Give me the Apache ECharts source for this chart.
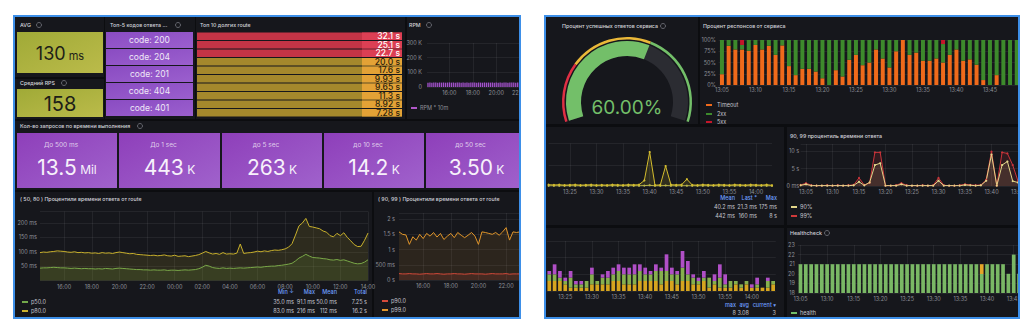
<!DOCTYPE html>
<html>
<head>
<meta charset="utf-8">
<script src="https://cdn.jsdelivr.net/npm/echarts@6/dist/echarts.min.js"></script>
<style>
  html, body { margin: 0; padding: 0; background: #ffffff; width: 1024px; height: 327px; overflow: hidden; }
  .shot { position: absolute; border: 2px solid #3d8fe8; background: #0c0d10; overflow: hidden; }
  #left { left: 13px; top: 15px; width: 504px; height: 300px; }
  #right { left: 544px; top: 15px; width: 472px; height: 300px; }
</style>
</head>
<body>
<div id="left" class="shot"></div>
<div id="right" class="shot"></div>
<script>
// ---------- time slot helper (category labels) ----------
function slots(h, m, count, step) {
  const out = [];
  for (let i = 0; i < count; i++) {
    const t = h * 60 + m + i * step;
    const hh = Math.floor(t / 60) % 24, mm = t % 60;
    out.push(String(hh).padStart(2, '0') + ':' + String(mm).padStart(2, '0'));
  }
  return out;
}

// ================= API dashboard data =================
const avgResponseMs = 130;
const avgRps = 158;
const topCodes = ['200', '204', '201', '404', '401'];

const routeRanks = ['1', '2', '3', '4', '5', '6', '7', '8', '9', '10'];
const routeSeconds = [32.1, 25.1, 22.7, 20.0, 17.6, 9.93, 9.65, 11.3, 8.92, 7.28];
const routeRedFrom = 21;

const rpmTimes = slots(14, 10, 48, 10);
const rpmValues = [29800, 30500, 29200, 30100, 31000, 29600, 30300, 29900, 30800, 29400,
  30200, 31200, 29700, 30600, 29300, 30000, 30900, 29500, 30400, 29800,
  31100, 29600, 30200, 29900, 30700, 29200, 30500, 30000, 29400, 30800,
  29700, 30300, 29900, 30600, 29100, 30400, 29800, 30900, 29500, 30100,
  30700, 29300, 30200, 29900, 30500, 29600, 30000, 30800];

const bucketNames = ['До 500 ms', 'До 1 sec', 'до 5 sec', 'до 10 sec', 'до 50 sec'];
const bucketCounts = [13.5, 443, 263, 14.2, 3.50];
const bucketUnits = ['Mil', 'K', 'K', 'K', 'K'];

const dayTimes = slots(14, 15, 96, 15);
const p80ms = [97, 99, 98, 100, 101, 103, 102, 101, 99, 98, 100, 97, 98, 96, 97,
  95, 96, 94, 97, 95, 96, 94, 97, 99, 97, 95, 93, 94, 91, 90, 89,
  88, 87, 88, 86, 87, 89, 86, 85, 88, 84, 85, 86, 83, 85, 87, 90,
  95, 101, 96, 92, 94, 91, 97, 92, 93, 92, 95, 127, 94, 96, 97, 99,
  102, 100, 103, 101, 104, 106, 105,
  107, 110, 116, 128, 158, 190, 200, 216, 188, 186,
  183, 180, 172, 168, 156, 152, 164, 156, 166, 150,
  138, 125, 118, 119, 140, 165];
const p50ms = [43, 44, 44, 45, 46, 45, 44, 44, 43, 42, 43, 42, 41, 42, 41,
  41, 40, 41, 40, 42, 41, 40, 42, 43, 42, 41, 40, 39, 38, 38, 37,
  37, 36, 37, 36, 36, 37, 35, 36, 36, 35, 36, 37, 36, 37, 38, 41,
  46, 53, 50, 45, 43, 42, 44, 42, 43, 42, 43, 44, 43, 44, 45, 46,
  47, 46, 48, 49, 50, 50, 52,
  53, 55, 57, 60, 68, 78, 84, 91, 85, 80,
  79, 78, 76, 75, 72, 71, 73, 70, 72, 68,
  64, 60, 58, 59, 64, 72];
const statHeaders = ['Min ↓', 'Max', 'Mean', 'Total'];
const p50Stats = ['35.0 ms', '91.1 ms', '50.0 ms', '7.25 s'];
const p80Stats = ['83.0 ms', '216 ms', '112 ms', '16.2 s'];

const tailTimes = slots(14, 15, 36, 15);
const p90s = [0.21, 0.2, 0.2, 0.21, 0.2, 0.2, 0.19, 0.2, 0.21, 0.2, 0.2, 0.21, 0.2, 0.19, 0.2, 0.2, 0.21, 0.2, 0.2,
  0.19, 0.2, 0.21, 0.2, 0.2, 0.2, 0.19, 0.2, 0.21, 0.2, 0.2, 0.2, 0.21, 0.19, 0.2, 0.2, 0.2];
const p99s = [1.58, 1.5, 1.48, 1.17, 1.42, 1.31, 1.5, 1.36, 1.53, 1.44, 1.56, 1.41, 1.53, 1.33, 1.44, 1.53, 1.39, 1.56, 1.47,
  1.39, 1.47, 1.56, 1.44, 1.17, 1.58, 1.56, 1.53, 1.5, 1.56, 1.47, 1.58, 1.72, 1.31, 1.58, 1.56, 1.58];

// ================= service dashboard data =================
const successPct = 60;
const gaugeSteps = [[0.25, '#e02f44'], [0.6, '#eab839'], [1, '#73bf69']];

const respTimes = slots(13, 5, 45, 1);
const timeoutPct = [24, 87, 79, 79, 76, 89, 79, 87, 67, 88, 42, 22, 36, 36, 30, 15, 0, 33, 19, 56,
  67, 44, 50, 79, 59, 39, 75, 100, 67, 72, 54, 54, 59, 50, 67, 79, 54, 57, 45, 11, 0, 22, 0, 0, 0];
const ok2xxPct = [76, 13, 21, 10, 24, 11, 21, 13, 33, 12, 58, 78, 64, 64, 70, 85, 100, 67, 81, 44,
  33, 56, 50, 21, 41, 61, 25, 0, 33, 28, 46, 46, 41, 41, 33, 21, 46, 43, 55, 89, 100, 78, 100, 100, 100];
const err5xxPct = [0, 0, 0, 11, 0, 0, 0, 0, 0, 0, 0, 0, 0, 0, 0, 0, 0, 0, 0, 0,
  0, 0, 0, 0, 0, 0, 0, 0, 0, 0, 0, 0, 0, 9, 0, 0, 0, 0, 0, 0, 0, 0, 0, 0, 0];

const latTimes = slots(13, 21, 43, 1);
const latSlowS = [0.3, 0.25, 0.3, 0.2, 0.25, 0.3, 0.2, 0.25, 0.3, 0.2, 0.25, 0.2, 0.3, 0.25, 0.2, 0.3, 0.25, 0.3,
  1.3, 8, 0.2, 0.25, 4.7, 0.3, 0.25, 0.3, 1.6, 0.25, 0.2, 0.3, 0.25, 0.2, 0.3, 0.25, 0.2, 0.3, 0.25, 0.2,
  0.3, 0.25, 0.2, 0.3, 0.16];
const latFastS = [0.03, 0.04, 0.03, 0.05, 0.04, 0.03, 0.04, 0.05, 0.03, 0.04, 0.04, 0.03, 0.05, 0.04, 0.03, 0.04,
  0.05, 0.04, 0.09, 0.175, 0.03, 0.04, 0.12, 0.04, 0.03, 0.04, 0.07, 0.03, 0.04, 0.03, 0.05, 0.04, 0.03,
  0.04, 0.04, 0.03, 0.05, 0.04, 0.03, 0.04, 0.03, 0.04, 0.0213];
const latHeaders = ['Mean', 'Last *', 'Max'];
const latFastStats = ['40.2 ms', '21.3 ms', '175 ms'];
const latSlowStats = ['442 ms', '160 ms', '8 s'];

const pctTimes = slots(13, 4, 44, 1);
const q90s = [0.2, 0.5, 0.1, 0.1, 0.1, 0.1, 0.1, 0.1, 0.1, 0.1, 0.2, 1.2, 0.2, 1.0, 6.0, 6.5, 0.1, 0.1, 0.1, 0.5,
  0.1, 0.1, 0.1, 0.1, 0.1, 0.1, 1.5, 0.1, 0.1, 0.1, 0.1, 0.3, 0.2, 0.1, 0.2, 1.5, 9.0, 0.1, 6.0, 7.0,
  1.4, 1.0, 1.2, 1.0];
const q99s = [0.3, 0.8, 0.2, 0.1, 0.1, 0.2, 0.1, 0.2, 0.1, 0.2, 0.3, 2.3, 0.3, 0.9, 9.6, 9.6, 0.1, 0.1, 0.2, 0.8,
  0.2, 0.1, 0.1, 0.2, 0.1, 0.2, 2.3, 0.2, 0.1, 0.1, 0.2, 0.5, 0.3, 0.2, 0.3, 1.8, 9.8, 0.1, 9.6, 9.3,
  6.0, 1.4, 1.5, 1.3];

const queueTimes = slots(13, 22, 43, 1);
const queueA = [3, 3, 3, 2, 1, 1, 1, 1, 2, 2, 2, 2, 3, 3, 2, 2, 2, 3, 3, 3, 3, 2, 3, 3, 2, 3, 3, 2, 2, 3, 1, 2, 1, 1, 1, 2, 1, 2, 1, 1, 1, 1, 2];
const queueB = [2, 2, 1, 1, 3, 1, 1, 2, 3, 1, 2, 2, 2, 3, 3, 3, 3, 3, 2, 2, 3, 4, 3, 2, 3, 4, 2, 2, 1, 1, 3, 1, 3, 1, 2, 1, 1, 1, 0, 1, 0, 2, 1];
const queueC = [1, 3, 2, 1, 2, 1, 1, 0, 2, 0, 1, 2, 2, 2, 2, 2, 3, 2, 2, 1, 2, 1, 5, 2, 1, 5, 4, 1, 1, 2, 0, 2, 4, 3, 0, 0, 0, 0, 1, 2, 0, 1, 0];
const queueHeaders = ['max', 'avg', 'current ▾'];
const queueStats = ['8', '3.08', '3'];

const healthTimes = slots(13, 5, 42, 1);
const healthValues = [21, 21, 21, 21, 21, 21, 21, 21, 21, 21, 21, 21, 21, 21, 21, 21, 21, 21, 21, 21, 21,
  21, 21, 21, 21, 21, 21, 21, 21, 21, 21, 21, 21, 21, 21, 21, 21, 21, 21, 20, 22, 20];
const healthDegraded = ['13:39'];

// ---------- look ----------
const FONT = 'Inter, "Noto Sans", "DejaVu Sans", sans-serif';
const C = {
  panel: '#16171c', title: '#d2d3da', axis: '#8e9098', grid: 'rgba(204,204,220,0.08)',
  legend: '#c4c5cc', blue: '#6e9fff'
};
const TS = 5.3; // panel title size
const grad = (a, b) => ({ type: 'linear', x: 0, y: 0, x2: 1, y2: 1, colorStops: [{ offset: 0, color: a }, { offset: 1, color: b }] });

function kit(ox, oy) {
  const els = [];
  return {
    els,
    rect(x, y, w, h, fill, z) {
      els.push({ type: 'rect', silent: true, z: z == null ? -10 : z, shape: { x: x - ox, y: y - oy, width: w, height: h }, style: { fill } });
    },
    text(x, y, s, o) {
      els.push({ type: 'text', silent: true, z: 100, x: x - ox, y: y - oy,
        style: Object.assign({ text: s, fill: C.title, fontSize: TS, fontFamily: FONT, fontWeight: 500, align: 'left', verticalAlign: 'middle' }, o || {}) });
    },
    icon(x, y) {
      els.push({ type: 'circle', silent: true, z: 100, shape: { cx: x - ox, cy: y - oy, r: 2.5 }, style: { fill: 'none', stroke: '#777982', lineWidth: 0.8 } });
    },
    swatch(x, y, color) {
      els.push({ type: 'rect', silent: true, z: 100, shape: { x: x - ox, y: y - oy - 1, width: 6, height: 2 }, style: { fill: color } });
    },
    grid(x, y, w, h) { return { left: x - ox, top: y - oy, width: w, height: h, outerBoundsMode: 'none', containLabel: false }; }
  };
}

const evenHour = (i, v) => v.endsWith(':00') && parseInt(v, 10) % 2 === 0;
const fiveMin = (i, v) => parseInt(v.slice(3), 10) % 5 === 0;

function timeAxis(gridIndex, data, interval, gap, margin) {
  return {
    type: 'category', gridIndex, data, boundaryGap: gap,
    axisLine: { show: false }, axisTick: { show: false },
    axisLabel: { color: C.axis, fontSize: 5.5, fontFamily: FONT, margin, interval, hideOverlap: false },
    splitLine: { show: true, interval, alignWithLabel: true, lineStyle: { color: C.grid, width: 1 } }
  };
}
function valueAxis(gridIndex, min, max, step, fmt, margin, showMax) {
  return {
    type: 'value', gridIndex, min, max, interval: step,
    axisLine: { show: false }, axisTick: { show: false },
    axisLabel: { show: !!fmt, color: C.axis, fontSize: 5.5, fontFamily: FONT, margin, formatter: fmt, showMaxLabel: showMax },
    splitLine: { show: true, lineStyle: { color: C.grid, width: 1 } }
  };
}
function lineSeries(x, y, data, color, fill, extra) {
  return Object.assign({
    type: 'line', xAxisIndex: x, yAxisIndex: y, data, silent: true,
    symbol: 'none', lineStyle: { color, width: 1 }, itemStyle: { color },
    areaStyle: { color: fill, origin: 'start' }
  }, extra || {});
}
const small = { fontSize: 5.5, fill: C.legend, fontWeight: 400 };

// ================= left dashboard =================
const L = kit(15, 17);
L.rect(15, 17, 89, 60, C.panel);
L.rect(15, 79, 89, 40, C.panel);
L.rect(105, 17, 90, 102, C.panel);
L.rect(196, 17, 209, 102, C.panel);
L.rect(407, 17, 112, 102, C.panel);
L.rect(15, 121, 504, 69, C.panel);
L.rect(15, 192, 357, 125, C.panel);
L.rect(374, 192, 145, 125, C.panel);

L.text(20, 25, 'AVG'); L.icon(39, 25);
L.rect(17, 32, 86, 41, grad('#a0aa37', '#bbbb4a'), -5);
L.text(60, 53, '{v|' + avgResponseMs + '}{u| ms}', { align: 'center',
  rich: { v: { fontSize: 18, fill: '#1d1e18', fontFamily: FONT }, u: { fontSize: 11, fill: '#1d1e18', fontFamily: FONT, verticalAlign: 'bottom', padding: [0, 0, 1, 0] } } });
L.text(20, 83, 'Средний RPS'); L.icon(64, 83);
L.rect(17, 89, 86, 28, grad('#a0aa37', '#bbbb4a'), -5);
L.text(60, 104, String(avgRps), { align: 'center', fontSize: 20, fontWeight: 400, fill: '#1d1e18' });

L.text(110, 25, 'Топ-5 кодов ответа ...'); L.icon(178, 25);
topCodes.forEach((c, i) => {
  L.rect(106, 32 + 17 * i, 87, 16, grad('#8a4cc2', '#9b5fce'), -5);
  L.text(149.5, 40 + 17 * i, 'code: ' + c, { align: 'center', fontSize: 8.5, fontWeight: 400, fill: '#efe7f7' });
});

L.text(200, 25, 'Топ 10 долгих route');
L.text(409, 25, 'RPM'); L.icon(429, 25);
L.swatch(411, 108, '#b057c8');
L.text(420, 108, 'RPM * 10m', { fill: C.axis, fontSize: 5.5, fontWeight: 400 });

L.text(20, 126, 'Кол-во запросов по времени выполнения'); L.icon(140, 126);
const tileX = [17, 119, 222, 324, 426], tileW = [100, 101, 100, 100, 101];
bucketNames.forEach((name, i) => {
  const cx = tileX[i] + tileW[i] / 2;
  L.rect(tileX[i], 133, tileW[i], 55, grad('#8e3fba', '#a062cc'), -5);
  L.text(cx - 6, 145, name, { align: 'center', fontSize: 6.5, fontWeight: 400, fill: 'rgba(255,255,255,0.72)' });
  L.text(cx, 167, '{v|' + bucketCounts[i].toPrecision(3) + '}{u| ' + bucketUnits[i] + '}', { align: 'center',
    rich: { v: { fontSize: 21, fill: '#f7f1fb', fontFamily: FONT }, u: { fontSize: 12, fill: '#f7f1fb', fontFamily: FONT, verticalAlign: 'bottom', padding: [0, 0, 2, 0] } } });
});

L.text(20, 199, '( 50, 80 ) Процентили времени ответа от route');
L.text(378, 199, '( 90, 99 ) Процентили времени ответа от route');

const statRight = [294, 315, 337, 367];
statHeaders.forEach((h, i) => L.text(statRight[i], 292, h, { align: 'right', fontSize: 5.5, fill: C.blue }));
p50Stats.forEach((s, i) => L.text(statRight[i], 302, s, Object.assign({ align: 'right' }, small)));
p80Stats.forEach((s, i) => L.text(statRight[i], 311, s, Object.assign({ align: 'right' }, small)));
L.swatch(22, 302, '#73a84a'); L.text(31, 302, 'p50.0', small);
L.swatch(22, 311, '#cbb22e'); L.text(31, 311, 'p80.0', small);
L.swatch(382, 301, '#d44a3a'); L.text(391, 301, 'p90.0', small);
L.swatch(382, 310, '#e0952a'); L.text(391, 310, 'p99.0', small);

const leftChart = echarts.init(document.getElementById('left'), null, { renderer: 'svg' });
leftChart.setOption({
  animation: false,
  textStyle: { fontFamily: FONT },
  graphic: { elements: L.els },
  grid: [L.grid(197, 32, 205, 85), L.grid(427, 43, 93.6, 44), L.grid(40, 211.5, 328, 69), L.grid(399, 213, 120.9, 67)],
  xAxis: [
    { type: 'value', gridIndex: 0, min: 0, max: 7, show: false },
    timeAxis(1, rpmTimes, evenHour, true, 3),
    timeAxis(2, dayTimes, evenHour, false, 3),
    timeAxis(3, tailTimes, evenHour, false, 3)
  ],
  yAxis: [
    { type: 'category', gridIndex: 0, data: routeRanks, inverse: true, show: false },
    valueAxis(1, 0, 300000, 100000, v => v === 0 ? '0' : (v / 1000) + ' K', 5, true),
    valueAxis(2, 0, 240, 50, v => v === 0 ? '' : v + ' ms', 3, false),
    valueAxis(3, 0, 2.2, 0.5, v => v === 0 ? '0 s' : (v < 1 ? Math.round(v * 1000) + ' ms' : v + ' s'), 4, false)
  ],
  series: [
    {
      type: 'bar', xAxisIndex: 0, yAxisIndex: 0, silent: true, barCategoryGap: '12%',
      data: routeSeconds.map(v => {
        const hot = v >= routeRedFrom;
        return { value: v, itemStyle: { color: hot ? '#c43446' : '#a4882c' },
          label: { color: hot ? '#ffffff' : '#2c220c', backgroundColor: hot ? '#dc3f54' : '#e3a236' } };
      }),
      label: { show: true, position: 'insideRight', distance: 0, formatter: p => p.value.toPrecision(3) + ' s',
        fontSize: 8.5, fontWeight: 500, fontFamily: FONT, width: 36, align: 'right', padding: [0, 2, 0, 2], lineHeight: 7.6 }
    },
    { type: 'bar', xAxisIndex: 1, yAxisIndex: 1, silent: true, data: rpmValues, barWidth: 1.3, itemStyle: { color: '#a352cc' } },
    lineSeries(2, 2, p80ms, '#c8b02c', 'rgba(190,170,40,0.2)'),
    lineSeries(2, 2, p50ms, '#7aa848', 'rgba(110,160,60,0.24)'),
    lineSeries(3, 3, p99s, '#e0952a', 'rgba(224,149,42,0.16)'),
    lineSeries(3, 3, p90s, '#d44a3a', 'rgba(212,74,58,0.22)')
  ]
});

// ================= right dashboard =================
const R = kit(546, 17);
R.rect(546, 17, 152, 107, C.panel);
R.rect(700, 17, 318, 107, C.panel);
R.rect(546, 127, 238, 98, C.panel);
R.rect(787, 127, 231, 98, C.panel);
R.rect(546, 228, 238, 89, C.panel);
R.rect(787, 228, 231, 89, C.panel);

R.text(562, 26, 'Процент успешных ответов сервиса'); R.icon(663, 26);
R.text(703, 26, 'Процент респонсов от сервиса');
R.swatch(706, 105, '#ef6a1b'); R.text(717, 105, 'Timeout', small);
R.swatch(706, 114, '#3d8a2c'); R.text(717, 114, '2xx', small);
R.swatch(706, 122, '#c4162a'); R.text(717, 122, '5xx', small);

const latRight = [735, 757, 777];
latHeaders.forEach((h, i) => R.text(latRight[i], 198, h, { align: 'right', fontSize: 5.5, fill: C.blue }));
latFastStats.forEach((s, i) => R.text(latRight[i], 207, s, Object.assign({ align: 'right' }, small)));
latSlowStats.forEach((s, i) => R.text(latRight[i], 216, s, Object.assign({ align: 'right' }, small)));

R.text(790, 136, '90, 99 процентиль времени ответа');
R.swatch(791, 207, '#e3d68a'); R.text(800, 207, '90%', small);
R.swatch(791, 216, '#d03a3a'); R.text(800, 216, '99%', small);

const queueRight = [736, 749, 776];
queueHeaders.forEach((h, i) => R.text(queueRight[i], 305, h, { align: 'right', fontSize: 5.5, fill: C.blue }));
queueStats.forEach((s, i) => R.text(queueRight[i], 313, s, Object.assign({ align: 'right' }, small)));

R.text(790, 233, 'Healthcheck'); R.icon(827, 233);
R.swatch(791, 313, '#73bf69'); R.text(800, 313, 'health', small);

// colour of the band follows the threshold step the value falls into
const gaugeColor = gaugeSteps.find(s => successPct / 100 < s[0])[1];
const gaugeCenter = [627 - 546, 102 - 17];
const noMarks = { splitLine: { show: false }, axisTick: { show: false }, axisLabel: { show: false }, pointer: { show: false }, title: { show: false } };

const rightChart = echarts.init(document.getElementById('right'), null, { renderer: 'svg' });
rightChart.setOption({
  animation: false,
  textStyle: { fontFamily: FONT },
  graphic: { elements: R.els },
  grid: [R.grid(718.6, 40, 301.5, 45), R.grid(548.6, 143.5, 223.4, 42.5), R.grid(800.7, 144, 227.9, 42),
    R.grid(546.6, 241, 229.2, 50), R.grid(797.8, 245, 223.9, 48)],
  xAxis: [
    timeAxis(0, respTimes, fiveMin, true, 2),
    timeAxis(1, latTimes, fiveMin, false, 3),
    timeAxis(2, pctTimes, fiveMin, false, 2.5),
    timeAxis(3, queueTimes, fiveMin, true, 2.5),
    timeAxis(4, healthTimes, fiveMin, true, 3)
  ],
  yAxis: [
    valueAxis(0, 0, 100, 25, v => v + '%', 2.6, true),
    valueAxis(1, 0, 10, 5, null, 3, false),
    valueAxis(2, 0, 12, 5, v => v === 0 ? '0 ms' : v + ' s', 1.5, false),
    valueAxis(3, 0, 15, 5, null, 3, false),
    valueAxis(4, 18, 23, 1, v => String(v), 3, true)
  ],
  series: [
    Object.assign({ type: 'gauge', center: gaugeCenter, radius: 65, startAngle: 198, endAngle: -18, min: 0, max: 100, silent: true,
      axisLine: { lineStyle: { width: 2.5, color: gaugeSteps } }, detail: { show: false }, data: [{ value: successPct }] }, noMarks),
    Object.assign({ type: 'gauge', center: gaugeCenter, radius: 61, startAngle: 198, endAngle: -18, min: 0, max: 100, silent: true,
      axisLine: { lineStyle: { width: 15, color: [[1, '#2b2c32']] } },
      progress: { show: true, width: 15, itemStyle: { color: gaugeColor } },
      detail: { offsetCenter: [0, 5], formatter: v => v.toFixed(2) + '%', color: gaugeColor, fontSize: 19, fontFamily: FONT, fontWeight: 400 },
      data: [{ value: successPct }] }, noMarks),

    { type: 'bar', name: 'Timeout', xAxisIndex: 0, yAxisIndex: 0, stack: 'resp', data: timeoutPct, barWidth: 4, silent: true, itemStyle: { color: '#ef6a1b' } },
    { type: 'bar', name: '2xx', xAxisIndex: 0, yAxisIndex: 0, stack: 'resp', data: ok2xxPct, barWidth: 4, silent: true, itemStyle: { color: '#3d8a2c' } },
    { type: 'bar', name: '5xx', xAxisIndex: 0, yAxisIndex: 0, stack: 'resp', data: err5xxPct, barWidth: 4, silent: true, itemStyle: { color: '#c4162a' } },

    lineSeries(1, 1, latFastS, '#b9b44a', 'rgba(185,180,74,0.12)', { symbol: 'circle', symbolSize: 2.2 }),
    lineSeries(1, 1, latSlowS, '#d4bd2e', 'rgba(212,189,46,0.2)', { symbol: 'circle', symbolSize: 2.2 }),

    lineSeries(2, 2, q99s, '#c9343a', 'rgba(201,52,58,0.22)', { symbol: 'circle', symbolSize: 2.2 }),
    lineSeries(2, 2, q90s, '#e3d68a', 'rgba(227,214,138,0.16)', { symbol: 'circle', symbolSize: 2.2 }),

    { type: 'bar', xAxisIndex: 3, yAxisIndex: 3, stack: 'q', data: queueA, barWidth: 3.7, silent: true, itemStyle: { color: '#d6a51f' } },
    { type: 'bar', xAxisIndex: 3, yAxisIndex: 3, stack: 'q', data: queueB, barWidth: 3.7, silent: true, itemStyle: { color: '#86b04e' } },
    { type: 'bar', xAxisIndex: 3, yAxisIndex: 3, stack: 'q', data: queueC, barWidth: 3.7, silent: true, itemStyle: { color: '#b04fc6' } },

    { type: 'bar', name: 'health', xAxisIndex: 4, yAxisIndex: 4, barWidth: 3.7, silent: true, itemStyle: { color: '#7ab865' },
      data: healthValues.map((v, i) => healthDegraded.includes(healthTimes[i])
        ? { value: v, itemStyle: { color: { type: 'linear', x: 0, y: 0, x2: 0, y2: 1, colorStops: [
            { offset: 0, color: '#e6a628' }, { offset: 0.33, color: '#e6a628' }, { offset: 0.33, color: '#7ab865' }, { offset: 1, color: '#7ab865' }] } } }
        : v) }
  ]
});
</script>
</body>
</html>
